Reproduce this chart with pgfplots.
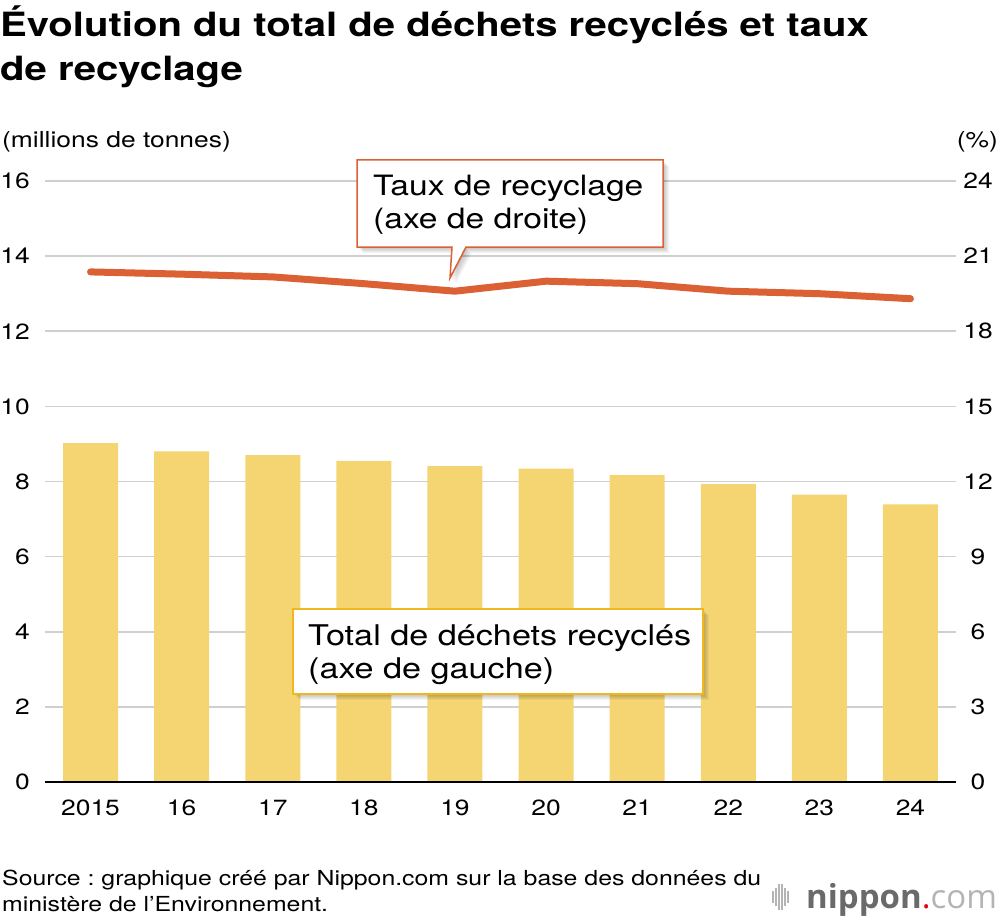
\documentclass[border=0pt]{standalone}
\usepackage{pgfplots}
\pgfplotsset{compat=1.18}
\usepackage{pgfplotstable}
\usepackage{fontspec}
\setmainfont{TeX Gyre Heros}[FakeStretch=1.2]
\newfontfamily\logofont{Open Sans}
\frenchspacing

\definecolor{barfill}{HTML}{F5D572}
\definecolor{rateline}{HTML}{DB6034}
\definecolor{boxgold}{HTML}{F0B81E}
\definecolor{gridgrey}{HTML}{CFCFCF}
\definecolor{logodark}{HTML}{6A6A6A}
\definecolor{logolight}{HTML}{B4B4B4}
\definecolor{logored}{HTML}{E60012}

% x: position, total: million tonnes (left axis), rate: % (right axis)
\pgfplotstableread{
x  total rate
0  9.02  20.37
1  8.80  20.28
2  8.70  20.17
3  8.55  19.90
4  8.41  19.60
5  8.34  20.00
6  8.17  19.90
7  7.93  19.60
8  7.65  19.50
9  7.39  19.30
}\recycling

\begin{document}
\begin{tikzpicture}
\useasboundingbox (0pt,0pt) rectangle (1000pt,-920pt);

% title
\node[anchor=base west, inner sep=0pt] at (0pt,-37pt)
  {\fontsize{33.4}{40}\selectfont\bfseries Évolution du total de déchets recyclés et taux};
\node[anchor=base west, inner sep=0pt] at (0pt,-81pt)
  {\fontsize{33.4}{40}\selectfont\bfseries de recyclage};

% axis units
\node[anchor=base west, inner sep=0pt] at (2pt,-148pt)
  {\fontsize{22}{26}\selectfont (millions de tonnes)};
\node[anchor=base east, inner sep=0pt] at (998pt,-148pt)
  {\fontsize{22}{26}\selectfont (\%)};

% left axis: bars
\begin{axis}[
  at={(45pt,-782pt)}, anchor=south west,
  scale only axis, width=911pt, height=601pt,
  xmin=-0.5, xmax=9.5, ymin=0, ymax=16,
  ytick={0,2,...,16},
  xtick={0,...,9},
  xticklabels={2015,16,17,18,19,20,21,22,23,24},
  ymajorgrids, grid style={gridgrey, line width=1.6pt},
  axis line style={draw=none},
  major tick length=0pt,
  tick label style={font=\fontsize{22}{26}\selectfont},
  yticklabel style={anchor=east, inner sep=0pt, xshift=-15pt},
  xticklabel style={anchor=base, inner sep=0pt, yshift=-33pt},
  /pgf/number format/assume math mode=true,
  ybar, bar width=55pt,
  clip=false,
]
\addplot[fill=barfill, draw=none] table[x=x, y=total]{\recycling};
\draw[black, line width=2pt] (axis cs:-0.5,0) -- (axis cs:9.5,0);
\end{axis}

% right axis: recycling rate
\begin{axis}[
  at={(45pt,-782pt)}, anchor=south west,
  scale only axis, width=911pt, height=601pt,
  xmin=-0.5, xmax=9.5, ymin=0, ymax=24,
  ytick={0,3,...,24},
  xtick=\empty,
  yticklabel pos=right,
  axis line style={draw=none},
  major tick length=0pt,
  tick label style={font=\fontsize{22}{26}\selectfont},
  yticklabel style={anchor=center, inner sep=0pt, xshift=22pt},
  /pgf/number format/assume math mode=true,
  clip=false,
]
\addplot[rateline, line width=7pt, line cap=round, line join=round]
  table[x=x, y=rate]{\recycling};
\end{axis}

% callout for the rate line
\foreach \s in {1,...,6}{
  \fill[black, opacity=0.045, shift={(\s pt,-\s pt)}]
    (357pt,-160pt) -- (663pt,-160pt) -- (663pt,-247pt) -- (466pt,-247pt)
    -- (450pt,-278pt) -- (452pt,-247pt) -- (357pt,-247pt) -- cycle;
}
\filldraw[fill=white, draw=rateline, line width=1.5pt, line join=miter]
  (357pt,-160pt) -- (663pt,-160pt) -- (663pt,-247pt) -- (466pt,-247pt)
  -- (450pt,-278pt) -- (452pt,-247pt) -- (357pt,-247pt) -- cycle;
\node[anchor=base west, inner sep=0pt] at (373pt,-195pt)
  {\fontsize{28}{33}\selectfont Taux de recyclage};
\node[anchor=base west, inner sep=0pt] at (373pt,-228pt)
  {\fontsize{28}{33}\selectfont (axe de droite)};

% label box for the bars
\foreach \s in {1,...,6}{
  \fill[black, opacity=0.045, shift={(\s pt,-\s pt)}]
    (293pt,-609pt) rectangle (703pt,-694pt);
}
\filldraw[fill=white, draw=boxgold, line width=1.5pt]
  (293pt,-609pt) rectangle (703pt,-694pt);
\node[anchor=base west, inner sep=0pt] at (308pt,-645pt)
  {\fontsize{28.5}{33}\selectfont Total de déchets recyclés};
\node[anchor=base west, inner sep=0pt] at (308pt,-678pt)
  {\fontsize{28.5}{33}\selectfont (axe de gauche)};

% source
\node[anchor=base west, inner sep=0pt] at (2pt,-885pt)
  {\fontsize{20.7}{24}\selectfont Source : graphique créé par Nippon.com sur la base des données du};
\node[anchor=base west, inner sep=0pt] at (2pt,-911pt)
  {\fontsize{20.7}{24}\selectfont ministère de l’Environnement.};

% logo
\foreach \xx/\hh in {773/6, 776/9, 779/13, 782/13, 785/9, 788/6}{
  \draw[logolight, line width=1.6pt] (\xx pt,-897pt+\hh pt) -- (\xx pt,-897pt-\hh pt);
}
\node[anchor=base west, inner sep=0pt] at (806pt,-908pt)
  {\logofont\fontsize{33}{36}\selectfont\textbf{\color{logodark}nippon}\color{logored}.\color{logolight}com};
\end{tikzpicture}
\end{document}
